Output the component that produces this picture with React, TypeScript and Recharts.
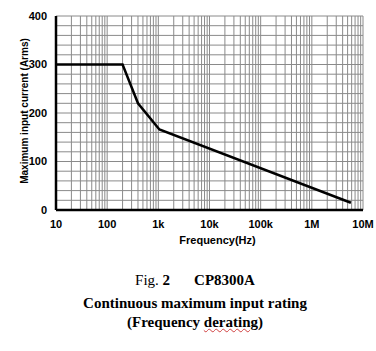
import { CartesianGrid, Line, LineChart, XAxis, YAxis } from 'recharts';

// (frequency in Hz, current in Arms)
const frequency = [10, 200, 400, 1050, 5800000];
const current = [300, 300, 220, 166, 15];

const decadeLabels: Record<number, string> = {
	10: '10',
	100: '100',
	1000: '1k',
	10000: '10k',
	100000: '100k',
	1000000: '1M',
	10000000: '10M',
};

// log grid: 1..9 x each decade
const xTicks: number[] = [];
for (let d = 1; d <= 6; d++) {
	for (let m = 1; m <= 9; m++) xTicks.push(m * 10 ** d);
}
xTicks.push(1e7);

const yTicks = [0, 20, 40, 60, 80, 100, 120, 140, 160, 180, 200, 220, 240, 260, 280, 300, 320, 340, 360, 380, 400];

const data = frequency.map((f, i) => ({ f, a: current[i] }));

const tickStyle = { fontFamily: 'Liberation Sans, Arial', fontWeight: 700, fontSize: 11, fill: '#000' };

export default function App() {
	return (
		<div style={{ position: 'absolute', left: 0, top: 0, width: 376, height: 351, background: '#fff' }}>
			<LineChart width={376} height={250} data={data} margin={{ top: 16, right: 13, bottom: 0, left: 0 }}>
				<CartesianGrid stroke="#8a8a8a" strokeWidth={1} />
				<XAxis
					dataKey="f"
					type="number"
					scale="log"
					domain={[10, 1e7]}
					ticks={xTicks}
					interval={0}
					height={40}
					tickLine={false}
					axisLine={{ stroke: '#000', strokeWidth: 2.5 }}
					tick={tickStyle}
					tickFormatter={(v: number) => decadeLabels[v] ?? ''}
					tickMargin={4}
					label={{
						value: 'Frequency(Hz)',
						position: 'insideBottom',
						offset: 6,
						dx: 8,
						style: { ...tickStyle },
					}}
				/>
				{/* frame on top and right */}
				<XAxis
					xAxisId="frame"
					orientation="top"
					dataKey="f"
					type="number"
					scale="log"
					domain={[10, 1e7]}
					height={0}
					tick={false}
					tickLine={false}
					axisLine={{ stroke: '#000', strokeWidth: 2 }}
				/>
				<YAxis
					type="number"
					domain={[0, 400]}
					ticks={yTicks}
					interval={0}
					width={56}
					tickLine={false}
					axisLine={{ stroke: '#000', strokeWidth: 2.5 }}
					tick={tickStyle}
					tickFormatter={(v: number) => (v % 100 === 0 ? String(v) : '')}
					tickMargin={3}
					label={{
						value: 'Maximum input current (Arms)',
						angle: -90,
						position: 'insideLeft',
						offset: 24,
						dy: -2,
						style: { ...tickStyle, fontSize: 10, textAnchor: 'middle' },
					}}
				/>
				<YAxis
					yAxisId="frame"
					orientation="right"
					type="number"
					domain={[0, 400]}
					width={0}
					tick={false}
					tickLine={false}
					axisLine={{ stroke: '#000', strokeWidth: 2 }}
				/>
				<Line
					dataKey="a"
					stroke="#000"
					strokeWidth={2.5}
					dot={false}
					isAnimationActive={false}
				/>
			</LineChart>
			<div
				style={{
					fontFamily: 'Liberation Serif, Times New Roman',
					fontSize: 15,
					lineHeight: '20px',
					textAlign: 'center',
					width: 376,
					marginTop: 20,
					paddingLeft: 14,
					boxSizing: 'border-box',
				}}
			>
				<div style={{ marginBottom: 3 }}>
					Fig. <b>2</b>
					<b style={{ marginLeft: 24 }}>CP8300A</b>
				</div>
				<div style={{ fontWeight: 700 }}>Continuous maximum input rating</div>
				<div style={{ fontWeight: 700, lineHeight: '19px' }}>
					(Frequency{' '}
					<span style={{ textDecoration: 'underline wavy #d04040', textDecorationThickness: 1 }}>derating</span>)
				</div>
			</div>
		</div>
	);
}
